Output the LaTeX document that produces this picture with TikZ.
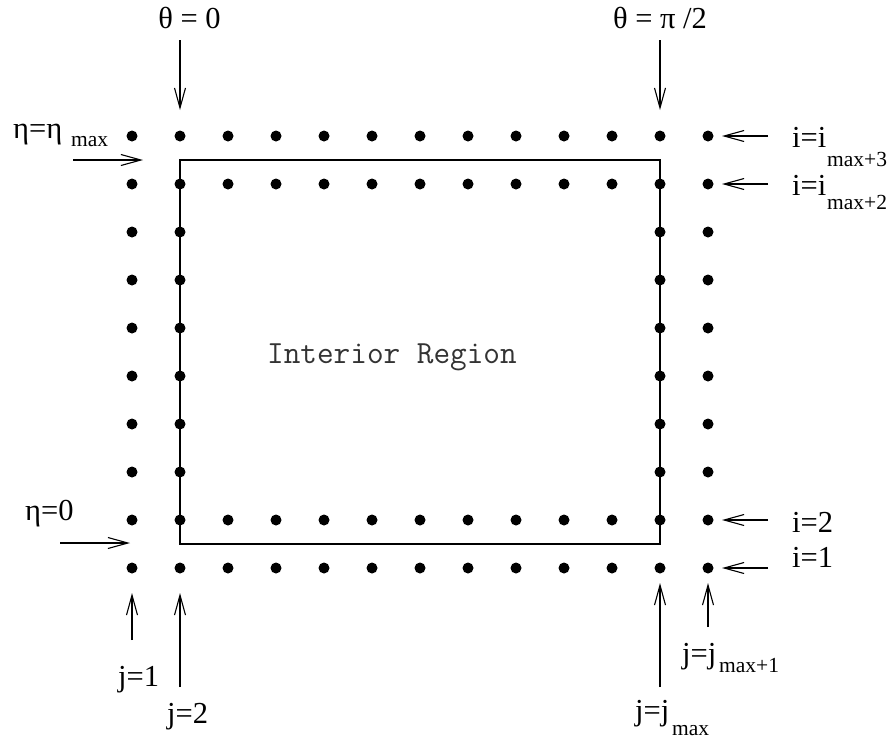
\documentclass[tikz,border=0pt]{standalone}
\usepackage{fontspec}
\setmainfont{Liberation Serif}
\usetikzlibrary{arrows.meta}
\begin{document}
\begin{tikzpicture}[x=1pt,y=-1pt,
  dot/.style={circle,fill=black,inner sep=0pt,minimum size=11pt},
  ptr/.style={-{Straight Barb[length=20pt,width=11pt,line width=1.1pt]},line width=1.1pt},
  lab/.style={inner sep=0pt,anchor=base west,font=\fontsize{30.5}{36}\selectfont},
  clab/.style={inner sep=0pt,anchor=base,font=\fontsize{30.5}{36}\selectfont},
  sublab/.style={inner sep=0pt,anchor=base west,font=\fontsize{21.5}{25}\selectfont},
  region/.style={inner sep=0pt,anchor=base west,text=black!80,font=\ttfamily\fontsize{32.3}{36}\selectfont},
]
\useasboundingbox (0,0) rectangle (890,740);
% boundary of interior
\draw[line width=1.3pt] (180,160) rectangle (660,544);
\node[region] (reg) at (267,363) {Interior Region};
% grid points
\foreach \c in {0,...,12}
  \foreach \r in {0,1,8,9}
    \node[dot] (d\c-\r) at ({132+48*\c},{136+48*\r}) {};
\foreach \c in {0,1,11,12}
  \foreach \r in {2,...,7}
    \node[dot] (d\c-\r) at ({132+48*\c},{136+48*\r}) {};
% labels
\node[clab] (th0) at (189.5,28) {θ = 0};
\node[clab] (th1) at (660,28) {θ = π /2};
\node[lab] (etamax) at (13,138) {η=η};
\node[sublab] (etamaxs) at (71,146) {max};
\node[lab] (eta0) at (25,520) {η=0};
\node[lab] (i3) at (792,147) {i=i};
\node[sublab] (i3s) at (827,166) {max+3};
\node[lab] (i2m) at (792,195) {i=i};
\node[sublab] (i2ms) at (827,209) {max+2};
\node[lab] (i2) at (792,532) {i=2};
\node[lab] (i1) at (792,567) {i=1};
\node[lab] (j1) at (118,686) {j=1};
\node[lab] (j2) at (167,723) {j=2};
\node[lab] (jm) at (635,720) {j=j};
\node[sublab] (jms) at (672,735) {max};
\node[lab] (jm1) at (682,663) {j=j};
\node[sublab] (jm1s) at (719,672) {max+1};
% arrow end points
\coordinate (a1s) at (180,40);  \coordinate (a1e) at (180,110);
\coordinate (a2s) at (660,40);  \coordinate (a2e) at (660,110);
\coordinate (a3s) at (73,160);  \coordinate (a3e) at (143,160);
\coordinate (a4s) at (60,543);  \coordinate (a4e) at (130,543);
\coordinate (a5s) at (132,640); \coordinate (a5e) at (132,593);
\coordinate (a6s) at (180,687); \coordinate (a6e) at (180,593);
\coordinate (a7s) at (660,687); \coordinate (a7e) at (660,583);
\coordinate (a8s) at (708,627); \coordinate (a8e) at (708,583);
\coordinate (a9s) at (768,136); \coordinate (a9e) at (722,136);
\coordinate (a10s) at (768,184); \coordinate (a10e) at (722,184);
\coordinate (a11s) at (768,520); \coordinate (a11e) at (722,520);
\coordinate (a12s) at (768,568); \coordinate (a12e) at (722,568);
\foreach \k in {1,...,12}
  \draw[ptr] (a\k s) -- (a\k e);
\end{tikzpicture}
\end{document}
